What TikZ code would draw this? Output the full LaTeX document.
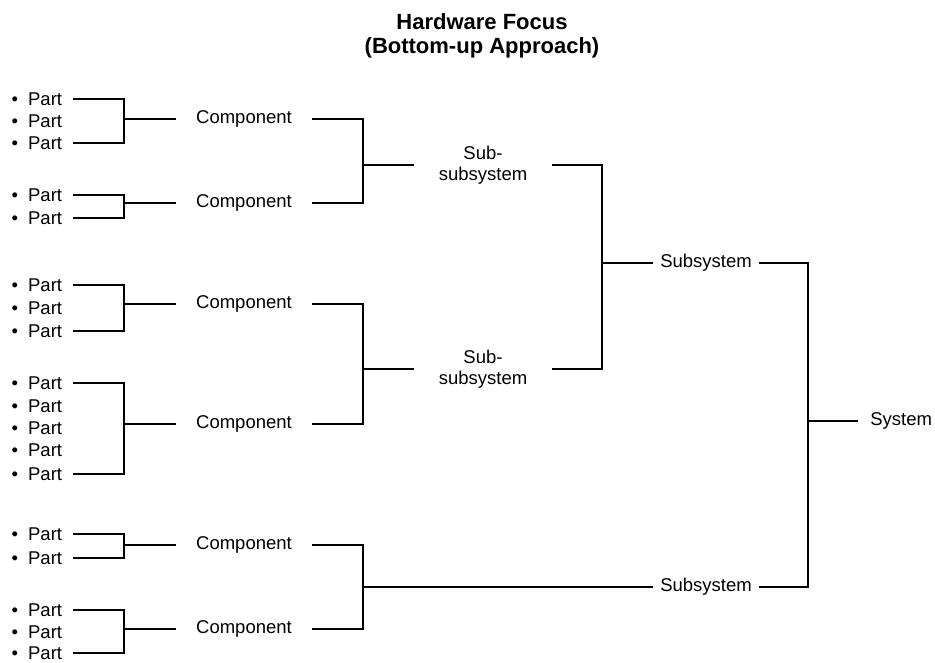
\documentclass[tikz,border=0pt]{standalone}
\usepackage{fontspec}
\setmainfont{Liberation Sans}
\begin{document}
\begin{tikzpicture}[x=1pt, y=-1pt, line width=1.8pt,
  txt/.style={font=\fontsize{18.5}{21}\selectfont, inner ysep=0pt},
  part/.style={txt, anchor=east, inner xsep=10pt},
  comp/.style={txt, minimum width=135pt, inner xsep=0pt},
  subsub/.style={txt, align=center, minimum width=136pt, inner xsep=0pt},
  subsys/.style={txt, minimum width=105pt, inner xsep=0pt},
  sys/.style={txt, anchor=west, inner xsep=11.5pt},
  ttl/.style={font=\bfseries\fontsize{22}{24}\selectfont, align=center}]
\useasboundingbox (0,0) rectangle (935,662);

% title
\node[ttl] (title) at (482,36) {Hardware Focus\\(Bottom-up Approach)};

% parts, listed with bullets
\foreach \n/\y in {pa1/99, pa2/121, pa3/143,
                   pb1/195, pb2/218,
                   pc1/285, pc2/308, pc3/331,
                   pd1/383, pd2/406, pd3/428, pd4/450, pd5/474,
                   pe1/534, pe2/558,
                   pf1/610, pf2/632, pf3/653}
  \node[part] (\n) at (73,\y) {\textbullet\hspace{10pt}Part};

% components
\node[comp] (ca) at (244,119) {Component};
\node[comp] (cb) at (244,203) {Component};
\node[comp] (cc) at (244,304) {Component};
\node[comp] (cd) at (244,424) {Component};
\node[comp] (ce) at (244,545) {Component};
\node[comp] (cf) at (244,629) {Component};

% sub-subsystems
\node[subsub] (sa) at (483,165) {Sub-\\subsystem};
\node[subsub] (sb) at (483,369) {Sub-\\subsystem};

% subsystems and system
\node[subsys] (ua) at (706,263) {Subsystem};
\node[subsys] (ub) at (706,587) {Subsystem};
\node[sys] (sys) at (858,421) {System};

% bracket junctions
\coordinate (ja) at (124,119);
\coordinate (jb) at (124,203);
\coordinate (jc) at (124,304);
\coordinate (jd) at (124,424);
\coordinate (je) at (124,545);
\coordinate (jf) at (124,629);
\coordinate (jsa) at (363,165);
\coordinate (jsb) at (363,369);
\coordinate (jub) at (363,587);
\coordinate (jua) at (602,263);
\coordinate (jsys) at (808,421);

% parts -> components
\draw (pa1.east) -| (ja) |- (pa3.east);  \draw (ja) -- (ca.west);
\draw (pb1.east) -| (jb) |- (pb2.east);  \draw (jb) -- (cb.west);
\draw (pc1.east) -| (jc) |- (pc3.east);  \draw (jc) -- (cc.west);
\draw (pd1.east) -| (jd) |- (pd5.east);  \draw (jd) -- (cd.west);
\draw (pe1.east) -| (je) |- (pe2.east);  \draw (je) -- (ce.west);
\draw (pf1.east) -| (jf) |- (pf3.east);  \draw (jf) -- (cf.west);

% components -> sub-subsystems / subsystem
\draw (ca.east) -| (jsa) |- (cb.east);  \draw (jsa) -- (sa.west);
\draw (cc.east) -| (jsb) |- (cd.east);  \draw (jsb) -- (sb.west);
\draw (ce.east) -| (jub) |- (cf.east);  \draw (jub) -- (ub.west);

% sub-subsystems -> subsystem
\draw (sa.east) -| (jua) |- (sb.east);  \draw (jua) -- (ua.west);

% subsystems -> system
\draw (ua.east) -| (jsys) |- (ub.east); \draw (jsys) -- (sys.west);
\end{tikzpicture}
\end{document}
